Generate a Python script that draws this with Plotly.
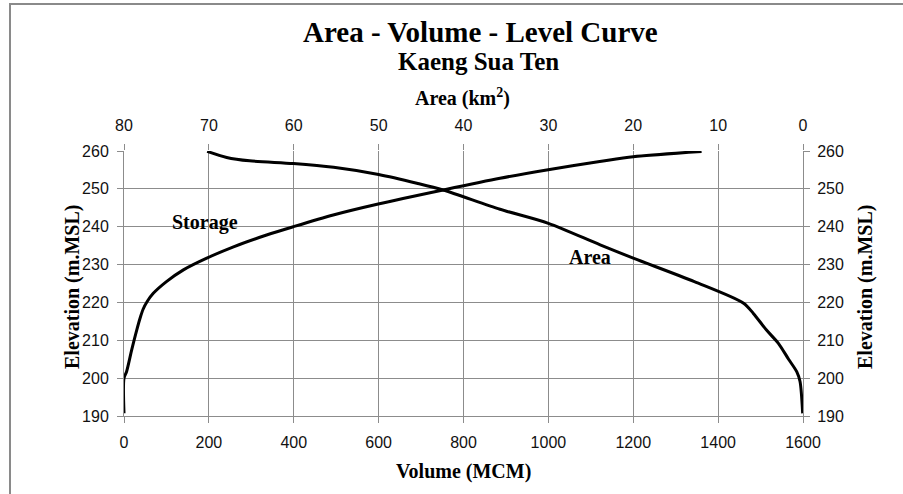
import plotly.graph_objects as go

# Storage curve: elevation (m.MSL) vs volume (MCM)
storage_elev = [190.7, 200, 201.7, 207.4, 212.7, 215.9, 218.2, 220.3, 222.4, 225.5, 228.6, 231.7, 234.7,
                237.8, 240, 243.1, 246, 249.7, 252.8, 255, 257.2, 258.5, 259.9]
storage_vol = [0, 0, 6, 18, 30, 38, 45, 55, 69, 100, 140, 195, 258,
               336, 399, 493, 599, 752, 886, 996, 1121, 1200, 1361]

# Area curve: elevation (m.MSL) vs area (km2)
area_elev = [190.7, 199.1, 201.7, 205.0, 209.2, 212.7, 217.1, 219.8, 225.5, 231.7, 235.2,
             240.9, 244.6, 249.7, 251.5, 253.8, 255.7, 256.7, 257.4, 258.3, 259.9]
area_km2 = [0.04, 0.35, 0.74, 1.7, 2.9, 4.3, 5.85, 7.0, 12.8, 20.0, 23.9,
            30.0, 35.7, 42.4, 45.5, 50.0, 55.3, 60.05, 65.2, 67.9, 70.2]

vol_ticks = [0, 200, 400, 600, 800, 1000, 1200, 1400, 1600]
area_ticks = [80, 70, 60, 50, 40, 30, 20, 10, 0]
elev_ticks = [190, 200, 210, 220, 230, 240, 250, 260]

W, H = 903, 494
L, R, T, B = 124, 100, 151, 78
pw, ph = W - L - R, H - T - B

def px(x):
    return (x - L) / pw

def py(y):
    return (H - B - y) / ph

grid = "#8c8c8c"
tickfont = dict(family="Liberation Sans, Arial", size=16, color="#111")
serif = "Liberation Serif, Times New Roman"
curve = dict(color="black", width=3, shape="spline", smoothing=0.8)

fig = go.Figure()
fig.add_trace(go.Scatter(x=storage_vol, y=storage_elev, mode="lines", line=curve,
                         name="Storage", xaxis="x", yaxis="y", hoverinfo="skip"))
fig.add_trace(go.Scatter(x=area_km2, y=area_elev, mode="lines", line=curve,
                         name="Area", xaxis="x2", yaxis="y2", hoverinfo="skip"))

common = dict(zeroline=False, fixedrange=True, ticks="outside", ticklen=6, tickcolor=grid,
              tickfont=tickfont)
fig.update_layout(
    width=W, height=H,
    margin=dict(l=L, r=R, t=T, b=B),
    paper_bgcolor="white", plot_bgcolor="white",
    showlegend=False,
    xaxis=dict(range=[0, 1600], tickvals=vol_ticks, showgrid=True, gridcolor=grid, gridwidth=1,
               showline=True, linecolor=grid, linewidth=1, ticklabelstandoff=6, **common),
    xaxis2=dict(range=[80, 0], tickvals=area_ticks, overlaying="x", side="top", showgrid=False,
                showline=False, ticklabelstandoff=7, **common),
    yaxis=dict(range=[190, 260], tickvals=elev_ticks, showgrid=True, gridcolor=grid, gridwidth=1,
               showline=True, linecolor=grid, linewidth=1, ticklabelstandoff=5, **common),
    yaxis2=dict(range=[190, 260], tickvals=elev_ticks, overlaying="y", side="right", showgrid=False,
                showline=True, linecolor=grid, linewidth=1, ticklabelstandoff=4, **common),
)

ann = [
    dict(text="<b>Area - Volume - Level Curve</b>", x=480, y=32, size=29),
    dict(text="<b>Kaeng Sua Ten</b>", x=478, y=61, size=25),
    dict(text="<b>Area (km<sup>2</sup>)</b>", x=462, y=97, size=20),
    dict(text="<b>Volume (MCM)</b>", x=463, y=471, size=20),
    dict(text="<b>Storage</b>", x=205, y=222, size=20),
    dict(text="<b>Area</b>", x=590, y=257, size=20),
]
for a in ann:
    fig.add_annotation(text=a["text"], x=px(a["x"]), y=py(a["y"]), xref="paper", yref="paper",
                       showarrow=False, xanchor="center", yanchor="middle",
                       font=dict(family=serif, size=a["size"], color="black"))
for xx in (72, 865):
    fig.add_annotation(text="<b>Elevation (m.MSL)</b>", x=px(xx), y=py(287), xref="paper", yref="paper",
                       showarrow=False, xanchor="center", yanchor="middle", textangle=-90,
                       font=dict(family=serif, size=20, color="black"))

# outer chart border
fig.add_shape(type="rect", xref="paper", yref="paper", x0=px(10), y0=py(4), x1=px(920), y1=py(510),
              line=dict(color="#8a8a8a", width=2), fillcolor="rgba(0,0,0,0)", layer="below")

fig.write_html("out.html", config={"displayModeBar": False},
               post_script="document.body.style.margin='0px';document.body.style.overflow='hidden';")
